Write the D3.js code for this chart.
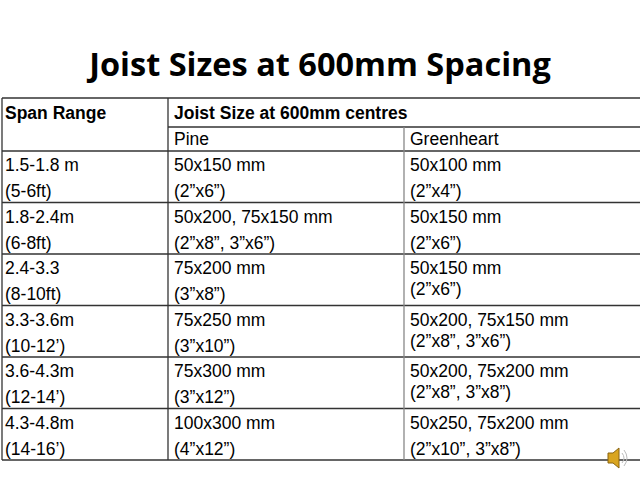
<!DOCTYPE html>
<html><head><meta charset="utf-8">
<script src="https://cdn.jsdelivr.net/npm/d3@7"></script>
<style>body{margin:0;background:#fff}</style></head>
<body><svg id="c" width="640" height="480"></svg>
<script>
const title = "Joist Sizes at 600mm Spacing";
const header1 = ["Span Range", "Joist Size at 600mm centres"];
const header2 = ["Pine", "Greenheart"];
const spans = [["1.5-1.8 m","(5-6ft)"],["1.8-2.4m","(6-8ft)"],["2.4-3.3","(8-10ft)"],["3.3-3.6m","(10-12’)"],["3.6-4.3m","(12-14’)"],["4.3-4.8m","(14-16’)"]];
const pine = [["50x150 mm","(2”x6”)"],["50x200, 75x150 mm","(2”x8”, 3”x6”)"],["75x200 mm","(3”x8”)"],["75x250 mm","(3”x10”)"],["75x300 mm","(3”x12”)"],["100x300 mm","(4”x12”)"]];
const greenheart = [["50x100 mm","(2”x4”)"],["50x150 mm","(2”x6”)"],["50x150 mm","(2”x6”)"],["50x200, 75x150 mm","(2”x8”, 3”x6”)"],["50x200, 75x200 mm","(2”x8”, 3”x8”)"],["50x250, 75x200 mm","(2”x10”, 3”x8”)"]];
const tight = [false,false,true,true,true,false];

const svg = d3.select("#c");
const F = "Liberation Sans, Arial, sans-serif";
svg.append("text").attr("x",320).attr("y",76).attr("text-anchor","middle")
  .attr("font-family","Open Sans, Liberation Sans, sans-serif").attr("font-weight","bold")
  .attr("font-size",32.5).attr("fill","#000").text(title);

const colX = [2,168,404,660];
const y = d3.scaleLinear().domain([0,6]).range([151,460]);
const g = svg.append("g");
const line=(x1,y1,x2,y2,c="#333")=>g.append("line").attr("x1",x1).attr("y1",y1).attr("x2",x2).attr("y2",y2).attr("stroke",c).attr("stroke-width",1.3);
line(colX[0],98,640,98);
line(colX[1],127,640,127);
d3.range(7).forEach(i=>line(colX[0],y(i),640,y(i)));
line(colX[0],98,colX[0],460);
line(colX[1],98,colX[1],460);
line(colX[2],127,colX[2],460,"#888");

const txt=(x,yy,s,bold)=>svg.append("text").attr("x",x).attr("y",yy).attr("font-family",F)
  .attr("font-size",17.5).attr("font-weight",bold?"bold":"normal").attr("fill","#000").text(s);
txt(5,119,header1[0],true);
txt(174,119,header1[1],true);
txt(174,145,header2[0]);
txt(410,145,header2[1]);
const cols=[spans,pine,greenheart];
cols.forEach((col,ci)=>col.forEach((d,i)=>{
  const top=y(i);
  const x0 = ci===0?5:colX[ci]+6;
  txt(x0,top+20,d[0]);
  txt(x0,top+(ci===2&&tight[i]?41:46),d[1]);
}));
const sp=svg.append("g").attr("transform","translate(608,448)");
sp.append("path").attr("d","M0,5 L5,5 L11,0 L11,20 L5,15 L0,15 Z").attr("fill","#d9a520").attr("stroke","#8a6510");
sp.append("path").attr("d","M14,5 Q18,10 14,15 M16,2 Q22,10 16,18").attr("fill","none").attr("stroke","#bbb");
</script></body></html>
